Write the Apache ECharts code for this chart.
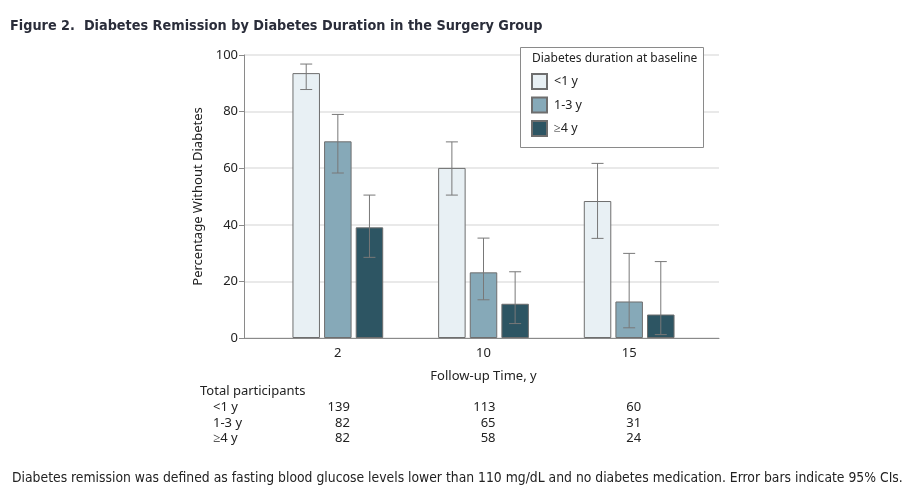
<!DOCTYPE html>
<html><head><meta charset="utf-8">
<script src="https://cdn.jsdelivr.net/npm/echarts@6/dist/echarts.min.js"></script>
<style>html,body{margin:0;padding:0;background:#fff}#c{width:912px;height:502px}</style>
</head><body><div id="c"></div>
<script>
// ---- data ----
const categories = ['2', '10', '15'];
const seriesNames = ['<1 y', '1-3 y', '≥4 y'];
const lt1 = [93.6, 60.1, 48.4];
const lt1Lo = [87.8, 50.5, 35.2];
const lt1Hi = [96.8, 69.3, 61.7];
const m13 = [69.5, 23.2, 12.9];
const m13Lo = [58.3, 13.5, 3.6];
const m13Hi = [79.0, 35.3, 29.9];
const ge4 = [39.1, 12.1, 8.3];
const ge4Lo = [28.5, 5.1, 1.2];
const ge4Hi = [50.5, 23.4, 27.0];
const nLt1 = [139, 113, 60];
const nM13 = [82, 65, 31];
const nGe4 = [82, 58, 24];
const yTicks = [0, 20, 40, 60, 80, 100];

// ---- styles ----
const colors = ['#e8f0f4', '#86a9b8', '#2d5563'];
const BAR_W = 27.5, GAP_PCT = 15;
const FONT = 'Noto Sans';
const values = [lt1, m13, ge4], los = [lt1Lo, m13Lo, ge4Lo], his = [lt1Hi, m13Hi, ge4Hi];

const chart = echarts.init(document.getElementById('c'), null, {renderer: 'canvas'});

const barSeries = seriesNames.map((nm, i) => ({
  name: nm, type: 'bar', xAxisIndex: 1, yAxisIndex: 1,
  data: values[i], barWidth: BAR_W, barGap: GAP_PCT + '%',
  itemStyle: {color: colors[i], borderColor: '#6e6e6e', borderWidth: 1},
  emphasis: {disabled: true}, z: 2
}));

const errSeries = seriesNames.map((nm, i) => ({
  type: 'custom', xAxisIndex: 1, yAxisIndex: 1, z: 5, silent: true,
  data: categories.map((c, k) => [k, los[i][k], his[i][k]]),
  renderItem: function (params, api) {
    const step = BAR_W * (1 + GAP_PCT / 100);
    const off = (i - 1) * step;
    const lo = api.coord([api.value(0), api.value(1)]);
    const hi = api.coord([api.value(0), api.value(2)]);
    const x = lo[0] + off, hw = 6;
    const st = {stroke: '#787878', lineWidth: 1};
    return {type: 'group', children: [
      {type: 'line', shape: {x1: x, y1: lo[1], x2: x, y2: hi[1]}, style: st},
      {type: 'line', shape: {x1: x - hw, y1: lo[1], x2: x + hw, y2: lo[1]}, style: st},
      {type: 'line', shape: {x1: x - hw, y1: hi[1], x2: x + hw, y2: hi[1]}, style: st}
    ]};
  }
}));

const option = {
  animation: false,
  textStyle: {fontFamily: FONT},
  title: {
    text: 'Figure 2.  Diabetes Remission by Diabetes Duration in the Surgery Group',
    left: 5, top: 14,
    textStyle: {fontFamily: 'DejaVu Sans Condensed', fontWeight: 'bold', fontSize: 14.3, color: '#2a2d3a'}
  },
  grid: [
    {left: 244, right: 193, top: 55, bottom: 164},
    {left: 265, right: 210, top: 55, bottom: 164}
  ],
  xAxis: [
    {gridIndex: 0, type: 'value', min: 0, max: 1, axisLine: {show: true, lineStyle: {color: '#8a8a8a'}},
     axisTick: {show: false}, axisLabel: {show: false}, splitLine: {show: false}},
    {gridIndex: 1, type: 'category', data: categories, axisLine: {show: false}, axisTick: {show: false},
     axisLabel: {fontSize: 13, color: '#222', margin: 9, fontFamily: FONT},
     name: 'Follow-up Time, y', nameLocation: 'middle', nameGap: 32,
     nameTextStyle: {fontSize: 13, color: '#222', fontFamily: FONT}}
  ],
  yAxis: [
    {gridIndex: 0, type: 'value', min: 0, max: 100, interval: 20,
     axisLine: {show: true, lineStyle: {color: '#8a8a8a'}},
     axisTick: {show: true, length: 5, lineStyle: {color: '#8a8a8a'}},
     axisLabel: {fontSize: 13, color: '#222', margin: 6, fontFamily: FONT},
     splitLine: {show: true, lineStyle: {color: '#e2e2e2', width: 1.5}},
     name: 'Percentage Without Diabetes', nameLocation: 'middle', nameGap: 33, nameRotate: 90,
     nameTextStyle: {fontSize: 13, color: '#222', fontFamily: FONT}},
    {gridIndex: 1, type: 'value', min: 0, max: 100, show: false, splitLine: {show: false}}
  ],
  legend: {
    data: seriesNames, orient: 'vertical', left: 531, top: 73, padding: 0,
    itemWidth: 15, itemHeight: 15, itemGap: 6.5, icon: 'rect', selectedMode: false,
    textStyle: {fontSize: 12.5, color: '#222', fontFamily: FONT, padding: [0, 0, 0, 2]}, z: 20
  },
  series: [...barSeries, ...errSeries]
};
chart.setOption(option);

// legend frame + table texts
const els = [
  {type: 'rect', left: 520, top: 47, shape: {width: 183, height: 100},
   style: {fill: '#fff', stroke: '#8a8a8a', lineWidth: 1}, z: 10},
  {type: 'text', left: 532, top: 53, z: 11,
   style: {text: 'Diabetes duration at baseline', font: '12px "' + FONT + '"', fill: '#222'}},
  {type: 'text', left: 200, top: 385,
   style: {text: 'Total participants', font: '13px "' + FONT + '"', fill: '#222'}}
];
const rows = [nLt1, nM13, nGe4];
rows.forEach((row, r) => {
  const y = 401 + r * 15.5;
  els.push({type: 'text', left: 213, top: y, style: {text: seriesNames[r], font: '13px "' + FONT + '"', fill: '#222'}});
  row.forEach((n, k) => {
    const px = chart.convertToPixel({xAxisIndex: 1, yAxisIndex: 1}, [k, 0]);
    els.push({type: 'text', x: px[0] + 12, y: y, style: {text: String(n), align: 'right', verticalAlign: 'top', font: '13px "' + FONT + '"', fill: '#222'}});
  });
});
els.push({type: 'text', left: 12, top: 471,
  style: {text: 'Diabetes remission was defined as fasting blood glucose levels lower than 110 mg/dL and no diabetes medication. Error bars indicate 95% CIs.',
    font: '13.8px "DejaVu Sans Condensed"', fill: '#222'}});
chart.setOption({graphic: {elements: els}});
</script></body></html>
